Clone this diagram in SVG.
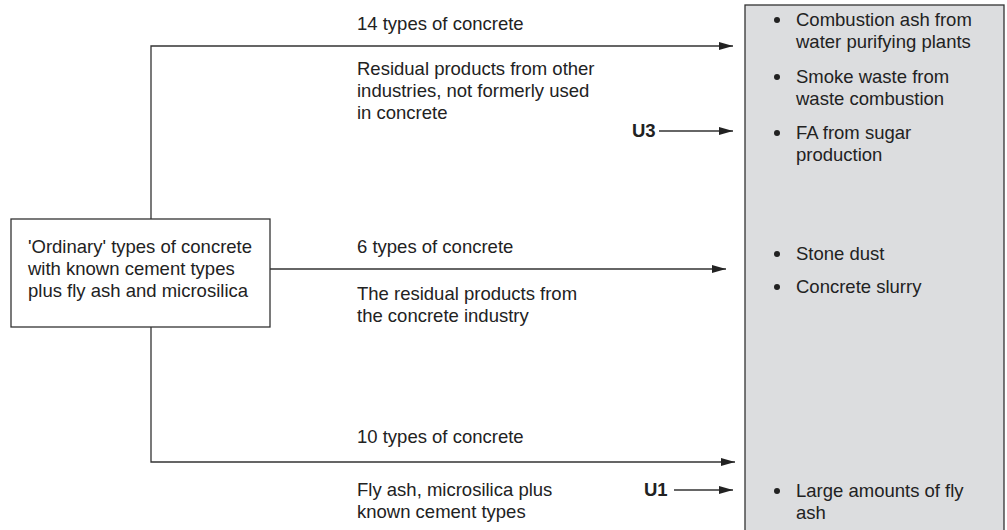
<svg xmlns="http://www.w3.org/2000/svg" width="1007" height="530" viewBox="0 0 1007 530">
<defs>
<style>
text{font-family:"Liberation Sans",Arial,sans-serif;font-size:18.5px;fill:#222}
.b{font-weight:bold}
.ln{stroke:#333;stroke-width:1.3;fill:none}
.dot{fill:#222}
</style>
<marker id="ah" viewBox="0 0 14 8" refX="14" refY="4" markerWidth="14" markerHeight="8" markerUnits="userSpaceOnUse" orient="auto">
<path d="M0,0 L14,4 L0,8 Z" fill="#222"/>
</marker>
</defs>
<rect width="1007" height="530" fill="#fff"/>
<g id="results">
<rect x="745" y="5" width="259" height="530" fill="#dcdddf" stroke="#333" stroke-width="1.3"/>
<circle class="dot" cx="777" cy="20" r="3"/>
<text x="796" y="26">Combustion ash from</text>
<text x="796" y="48">water purifying plants</text>
<circle class="dot" cx="777" cy="77" r="3"/>
<text x="796" y="83">Smoke waste from</text>
<text x="796" y="105">waste combustion</text>
<circle class="dot" cx="777" cy="133" r="3"/>
<text x="796" y="139">FA from sugar</text>
<text x="796" y="161">production</text>
<circle class="dot" cx="777" cy="254" r="3"/>
<text x="796" y="260">Stone dust</text>
<circle class="dot" cx="777" cy="287" r="3"/>
<text x="796" y="293">Concrete slurry</text>
<circle class="dot" cx="777" cy="491" r="3"/>
<text x="796" y="497">Large amounts of fly</text>
<text x="796" y="519">ash</text>
</g>
<g id="source">
<rect x="11" y="219" width="259" height="108" fill="#fff" stroke="#333" stroke-width="1.3"/>
<text x="28" y="253">'Ordinary' types of concrete</text>
<text x="28" y="275">with known cement types</text>
<text x="28" y="297">plus fly ash and microsilica</text>
</g>
<g id="connectors">
<path class="ln" d="M151,219 V46 H733" marker-end="url(#ah)"/>
<path class="ln" d="M270,269 H726" marker-end="url(#ah)"/>
<path class="ln" d="M151,327 V462 H735" marker-end="url(#ah)"/>
<path class="ln" d="M659,131 H733" marker-end="url(#ah)"/>
<path class="ln" d="M674,490 H733" marker-end="url(#ah)"/>
</g>
<g id="labels">
<text x="357" y="30">14 types of concrete</text>
<text x="357" y="75">Residual products from other</text>
<text x="357" y="97">industries, not formerly used</text>
<text x="357" y="119">in concrete</text>
<text class="b" x="632" y="137">U3</text>
<text x="357" y="253">6 types of concrete</text>
<text x="357" y="300">The residual products from</text>
<text x="357" y="322">the concrete industry</text>
<text x="357" y="443">10 types of concrete</text>
<text x="357" y="496">Fly ash, microsilica plus</text>
<text x="357" y="518">known cement types</text>
<text class="b" x="644" y="496">U1</text>
</g>
</svg>
